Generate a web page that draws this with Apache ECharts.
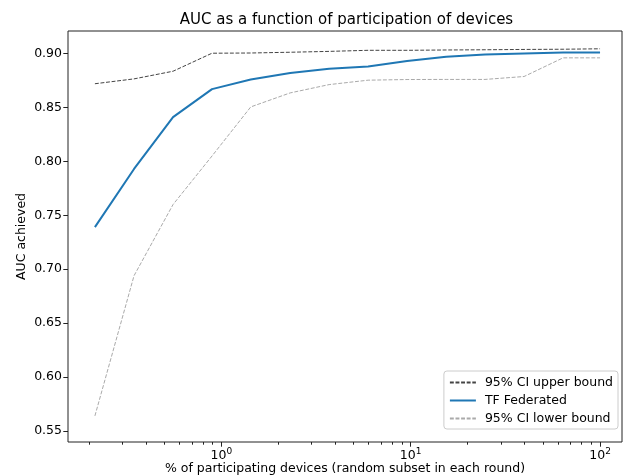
<!DOCTYPE html>
<html>
<head>
<meta charset="utf-8">
<script src="https://cdn.jsdelivr.net/npm/echarts@6/dist/echarts.min.js"></script>
<style>html,body{margin:0;padding:0;background:#fff}#c{width:624px;height:476px}</style>
</head>
<body>
<div id="c"></div>
<script>
// Data
const participation = [0.215, 0.346, 0.556, 0.893, 1.43, 2.31, 3.71, 5.96, 9.57, 15.4, 24.7, 39.7, 63.8, 100];
const upperBound = [0.872, 0.8765, 0.8836, 0.9003, 0.9005, 0.9012, 0.902, 0.903, 0.903, 0.9033, 0.9035, 0.9038, 0.904, 0.9044];
const tfFederated = [0.739, 0.793, 0.841, 0.867, 0.876, 0.882, 0.886, 0.888, 0.893, 0.897, 0.899, 0.900, 0.901, 0.901];
const lowerBound = [0.564, 0.694, 0.760, 0.805, 0.8505, 0.8635, 0.8712, 0.8753, 0.8759, 0.876, 0.876, 0.8787, 0.896, 0.896];
const yTicks = [0.55, 0.60, 0.65, 0.70, 0.75, 0.80, 0.85, 0.90];
const xMajorTicks = [1, 10, 100];
const xMinorTicks = [0.2, 0.3, 0.4, 0.5, 0.6, 0.7, 0.8, 0.9, 2, 3, 4, 5, 6, 7, 8, 9, 20, 30, 40, 50, 60, 70, 80, 90];

const FONT = 'DejaVu Sans';
const FS = 12.5;
const zip = (xs, ys) => xs.map((x, i) => [x, ys[i]]);

const chart = echarts.init(document.getElementById('c'), null, {renderer: 'canvas'});
chart.setOption({
  animation: false,
  backgroundColor: '#fff',
  textStyle: {fontFamily: FONT},
  graphic: [
    {type: 'text', x: 346.5, y: 20, silent: true,
     style: {text: 'AUC as a function of participation of devices', fontFamily: FONT, fontSize: 15,
             fill: '#000', align: 'center', verticalAlign: 'middle'}},
    {type: 'text', x: 345, y: 468.5, silent: true,
     style: {text: '% of participating devices (random subset in each round)', fontFamily: FONT, fontSize: FS,
             fill: '#000', align: 'center', verticalAlign: 'middle'}},
    {type: 'text', x: 21.5, y: 236.5, rotation: Math.PI / 2, silent: true,
     style: {text: 'AUC achieved', fontFamily: FONT, fontSize: FS,
             fill: '#000', align: 'center', verticalAlign: 'middle'}}
  ],
  grid: {left: 68, right: 2, top: 31, bottom: 34, outerBoundsMode: 'none', containLabel: false,
         show: true, borderColor: '#222', borderWidth: 1, backgroundColor: 'transparent'},
  xAxis: [
    {type: 'log', logBase: 10, min: 0.155, max: 130.6,
     axisLine: {show: false}, splitLine: {show: false},
     axisTick: {show: true, length: 4.7, customValues: xMajorTicks, lineStyle: {color: '#222'}},
     axisLabel: {show: true, customValues: xMajorTicks, margin: 5, color: '#000',
       formatter: v => '{b|10}{s|' + Math.round(Math.log10(v)) + '}',
       rich: {b: {fontFamily: FONT, fontSize: FS, color: '#000'},
              s: {fontFamily: FONT, fontSize: 9, color: '#000', padding: [0, 0, 8, 0]}}}},
    {type: 'log', logBase: 10, min: 0.155, max: 130.6, position: 'bottom',
     axisLine: {show: false}, splitLine: {show: false}, axisLabel: {show: false},
     axisTick: {show: true, length: 2.7, customValues: xMinorTicks, lineStyle: {color: '#222'}}}
  ],
  yAxis: {type: 'value', min: 0.5398, max: 0.9209,
    axisLine: {show: false}, splitLine: {show: false},
    axisTick: {show: true, length: 4.7, customValues: yTicks, lineStyle: {color: '#222'}},
    axisLabel: {customValues: yTicks, margin: 6, fontFamily: FONT, fontSize: FS, color: '#000',
      formatter: v => v.toFixed(2)}},
  legend: {
    orient: 'vertical', right: 6, bottom: 47,
    data: ['95% CI upper bound', 'TF Federated', '95% CI lower bound'],
    itemWidth: 26, itemHeight: 13, itemGap: 5,
    padding: [5, 5, 4, 5],
    itemStyle: {opacity: 0},
    borderColor: '#ccc', borderWidth: 1, borderRadius: 3,
    backgroundColor: 'rgba(255,255,255,0.8)',
    textStyle: {fontFamily: FONT, fontSize: FS, color: '#000', padding: [0, 0, 0, 4]}
  },
  series: [
    {name: '95% CI upper bound', type: 'line', data: zip(participation, upperBound), symbol: 'none',
     lineStyle: {color: '#444', width: 1, type: [3.9, 1.7]}, itemStyle: {color: '#444'}},
    {name: 'TF Federated', type: 'line', data: zip(participation, tfFederated), symbol: 'none',
     lineStyle: {color: '#1f77b4', width: 2}, itemStyle: {color: '#1f77b4'}},
    {name: '95% CI lower bound', type: 'line', data: zip(participation, lowerBound), symbol: 'none',
     lineStyle: {color: '#aaa', width: 1, type: [3.9, 1.7]}, itemStyle: {color: '#aaa'}}
  ]
});
</script>
</body>
</html>
